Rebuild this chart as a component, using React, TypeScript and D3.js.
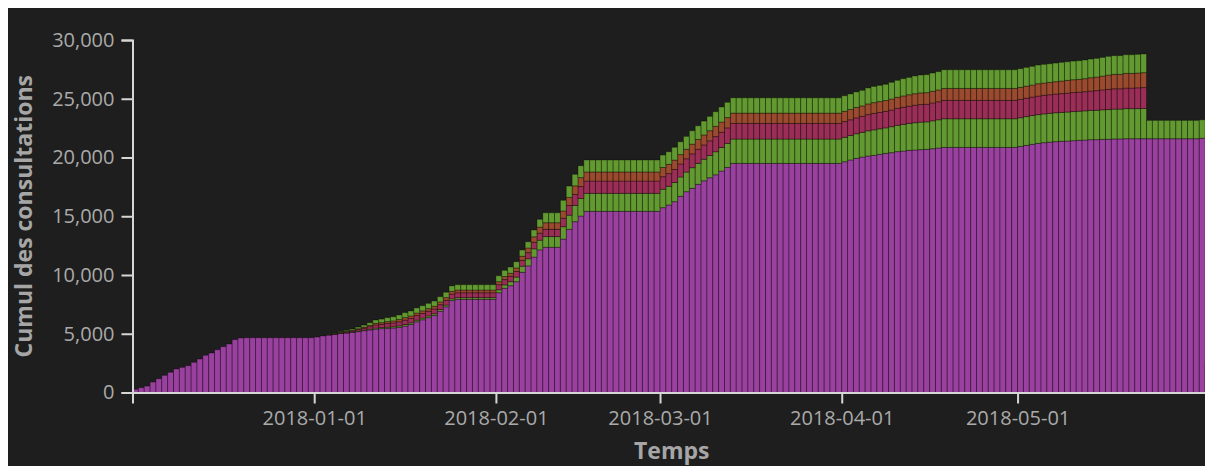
import React, { useEffect, useRef } from 'react'
import * as d3 from 'd3'

// one bar per day, from firstDay on
const firstDay = '2017-12-01'
const domainEnd = '2018-06-03'
const xTickDays = ['2018-01-01', '2018-02-01', '2018-03-01', '2018-04-01', '2018-05-01']
const yTicks = [0, 5000, 10000, 15000, 20000, 25000, 30000]

const seriesKeys = ['violet', 'vert', 'rouge', 'orange', 'vertClair']
const seriesColors = ['#9a409f', '#629a31', '#9a2e57', '#9a4a2e', '#629a31']

const violet = [
  270, 410, 550, 890, 1170, 1460, 1720, 2000, 2140, 2280,
  2570, 2850, 3170, 3360, 3640, 3900, 4130, 4500, 4640, 4660,
  4660, 4660, 4660, 4660, 4660, 4660, 4660, 4660, 4660, 4660,
  4660, 4720, 4810, 4890, 4950, 5030, 5060, 5120, 5180, 5260,
  5320, 5400, 5430, 5460, 5490, 5550, 5650, 5790, 6020, 6190,
  6370, 6560, 6920, 7290, 7820, 7930, 7930, 7930, 7930, 7930,
  7930, 7930, 8490, 8870, 9090, 9430, 10230, 10780, 11530, 12140,
  12360, 12360, 12360, 13060, 13890, 14540, 15020, 15420, 15420, 15420,
  15420, 15420, 15420, 15420, 15420, 15420, 15420, 15420, 15420, 15420,
  15730, 15960, 16240, 16700, 17090, 17380, 17720, 18020, 18280, 18530,
  18850, 19160, 19500, 19500, 19500, 19500, 19500, 19500, 19500, 19500,
  19500, 19500, 19500, 19500, 19500, 19500, 19500, 19500, 19500, 19500,
  19500, 19640, 19790, 19930, 20040, 20130, 20180, 20270, 20350, 20410,
  20500, 20550, 20610, 20640, 20670, 20690, 20750, 20810, 20860, 20860,
  20860, 20860, 20860, 20860, 20860, 20860, 20860, 20860, 20860, 20860,
  20860, 20940, 21030, 21120, 21200, 21260, 21310, 21350, 21380, 21400,
  21430, 21460, 21490, 21520, 21520, 21540, 21550, 21580, 21580, 21600,
  21600, 21600, 21600, 21600, 21600, 21600, 21600, 21600, 21600, 21600,
  21600, 21600, 21640, 0
]

const vert = [
  0, 0, 0, 0, 0, 0, 0, 0, 0, 0,
  0, 0, 0, 0, 0, 0, 0, 0, 0, 0,
  0, 0, 0, 0, 0, 0, 0, 0, 0, 0,
  0, 0, 0, 0, 10, 15, 25, 30, 45, 55,
  75, 90, 95, 105, 110, 125, 135, 135, 140, 145,
  145, 145, 150, 150, 150, 150, 150, 150, 150, 150,
  150, 150, 250, 290, 340, 390, 520, 600, 700, 820,
  910, 910, 910, 1050, 1200, 1380, 1490, 1530, 1530, 1530,
  1530, 1530, 1530, 1530, 1530, 1530, 1530, 1530, 1530, 1530,
  1570, 1590, 1630, 1640, 1670, 1750, 1780, 1830, 1890, 1960,
  2000, 2040, 2070, 2070, 2070, 2070, 2070, 2070, 2070, 2070,
  2070, 2070, 2070, 2070, 2070, 2070, 2070, 2070, 2070, 2070,
  2070, 2080, 2080, 2090, 2100, 2140, 2170, 2170, 2170, 2210,
  2240, 2270, 2290, 2320, 2340, 2340, 2370, 2400, 2440, 2440,
  2440, 2440, 2440, 2440, 2440, 2440, 2440, 2440, 2440, 2440,
  2440, 2440, 2450, 2450, 2450, 2450, 2450, 2460, 2460, 2470,
  2480, 2480, 2480, 2490, 2500, 2520, 2530, 2540, 2540, 2560,
  2560, 2560, 2570, 0, 0, 0, 0, 0, 0, 0,
  0, 0, 0, 2500
]

const rouge = [
  0, 0, 0, 0, 0, 0, 0, 0, 0, 0,
  0, 0, 0, 0, 0, 0, 0, 0, 0, 0,
  0, 0, 0, 0, 0, 0, 0, 0, 0, 0,
  0, 0, 0, 10, 30, 50, 75, 90, 130, 160,
  205, 255, 270, 300, 315, 345, 380, 380, 390, 395,
  400, 405, 405, 410, 410, 410, 410, 410, 410, 410,
  410, 410, 440, 450, 460, 480, 500, 520, 560, 600,
  620, 620, 620, 720, 830, 940, 1020, 1050, 1050, 1050,
  1050, 1050, 1050, 1050, 1050, 1050, 1050, 1050, 1050, 1050,
  1070, 1080, 1110, 1110, 1130, 1180, 1200, 1220, 1250, 1290,
  1300, 1320, 1330, 1330, 1330, 1330, 1330, 1330, 1330, 1330,
  1330, 1330, 1330, 1330, 1330, 1330, 1330, 1330, 1330, 1330,
  1330, 1340, 1340, 1350, 1360, 1380, 1400, 1400, 1400, 1420,
  1440, 1460, 1470, 1490, 1500, 1500, 1520, 1530, 1560, 1560,
  1560, 1560, 1560, 1560, 1560, 1560, 1560, 1560, 1560, 1560,
  1560, 1565, 1570, 1570, 1580, 1580, 1580, 1590, 1600, 1610,
  1620, 1620, 1630, 1650, 1670, 1690, 1720, 1730, 1730, 1750,
  1750, 1770, 1780, 0, 0, 0, 0, 0, 0, 0,
  0, 0, 0, 0
]

const orange = [
  0, 0, 0, 0, 0, 0, 0, 0, 0, 0,
  0, 0, 0, 0, 0, 0, 0, 0, 0, 0,
  0, 0, 0, 0, 0, 0, 0, 0, 0, 0,
  0, 0, 0, 0, 15, 25, 40, 50, 70, 85,
  110, 140, 150, 165, 175, 190, 210, 210, 215, 220,
  225, 225, 230, 230, 230, 230, 230, 230, 230, 230,
  230, 230, 250, 260, 260, 300, 350, 400, 460, 520,
  560, 560, 560, 620, 680, 730, 760, 770, 770, 770,
  770, 770, 770, 770, 770, 770, 770, 770, 770, 770,
  780, 790, 800, 800, 810, 830, 840, 850, 860, 870,
  870, 880, 880, 880, 880, 880, 880, 880, 880, 880,
  880, 880, 880, 880, 880, 880, 880, 880, 880, 880,
  880, 880, 880, 890, 890, 910, 920, 920, 930, 940,
  950, 960, 970, 980, 990, 990, 1000, 1010, 1020, 1020,
  1020, 1020, 1020, 1020, 1020, 1020, 1020, 1020, 1020, 1020,
  1020, 1025, 1030, 1030, 1050, 1050, 1050, 1050, 1070, 1080,
  1090, 1090, 1110, 1130, 1160, 1180, 1220, 1230, 1230, 1250,
  1250, 1260, 1270, 0, 0, 0, 0, 0, 0, 0,
  0, 0, 0, 0
]

const vertClair = [
  0, 0, 0, 0, 0, 0, 0, 0, 0, 0,
  0, 0, 0, 0, 0, 0, 0, 0, 0, 0,
  0, 0, 0, 0, 0, 0, 0, 0, 0, 0,
  0, 0, 0, 20, 35, 60, 90, 110, 145, 180,
  230, 285, 305, 340, 360, 390, 425, 425, 435, 440,
  450, 455, 455, 455, 460, 460, 460, 460, 460, 460,
  460, 460, 510, 530, 530, 530, 530, 530, 580, 660,
  850, 850, 850, 910, 970, 980, 1010, 1020, 1020, 1020,
  1020, 1020, 1020, 1020, 1020, 1020, 1020, 1020, 1020, 1020,
  1060, 1070, 1090, 1090, 1100, 1140, 1160, 1180, 1220, 1250,
  1280, 1300, 1300, 1300, 1300, 1300, 1300, 1300, 1300, 1300,
  1300, 1300, 1300, 1300, 1300, 1300, 1300, 1300, 1300, 1300,
  1300, 1320, 1320, 1320, 1330, 1360, 1380, 1380, 1380, 1420,
  1440, 1470, 1480, 1510, 1520, 1530, 1550, 1560, 1590, 1590,
  1590, 1590, 1590, 1590, 1590, 1590, 1590, 1590, 1590, 1590,
  1590, 1590, 1590, 1590, 1590, 1590, 1590, 1590, 1590, 1590,
  1590, 1590, 1590, 1590, 1590, 1590, 1590, 1590, 1590, 1590,
  1590, 1590, 1590, 1560, 1560, 1560, 1560, 1560, 1560, 1560,
  1560, 1560, 1570, 0
]

const seriesValues = [violet, vert, rouge, orange, vertClair]

const W = 1205
const H = 458

export default function App () {
  const ref = useRef<SVGSVGElement>(null)

  useEffect(() => {
    document.documentElement.style.overflow = 'hidden'
    document.body.style.overflow = 'hidden'

    const svg = d3.select(ref.current)
    svg.selectAll('*').remove()

    const margin = { top: 32, right: 2, bottom: 73.5, left: 124.5 }
    const innerW = W - margin.left - margin.right
    const innerH = H - margin.top - margin.bottom
    const font = "'Open Sans', 'Noto Sans', sans-serif"

    const parse = d3.utcParse('%Y-%m-%d')
    const start = parse(firstDay) as Date
    const days = violet.map((_, i) => d3.utcDay.offset(start, i))

    const table = days.map((d, i) => {
      const row: any = { date: d }
      seriesKeys.forEach((k, j) => { row[k] = seriesValues[j][i] })
      return row
    })
    const stacked = d3.stack().keys(seriesKeys)(table)

    const x = d3.scaleUtc()
      .domain([start, parse(domainEnd) as Date])
      .range([0, innerW])
    const y = d3.scaleLinear()
      .domain([0, 30000])
      .range([innerH, 0])

    const g = svg.append('g')
      .attr('transform', 'translate(' + margin.left + ',' + margin.top + ')')

    // faint band behind the last day
    const lastDay = days[days.length - 1]
    g.append('rect')
      .attr('x', x(lastDay) + 2)
      .attr('y', y(30000))
      .attr('width', innerW + margin.right - x(lastDay) - 2)
      .attr('height', y(0) - y(30000))
      .attr('fill', '#262626')

    // stacked bars
    stacked.forEach((layer, j) => {
      g.append('g')
        .selectAll('rect')
        .data(layer.filter(d => d[1] - d[0] > 0))
        .enter()
        .append('rect')
        .attr('x', d => x(d.data.date as any))
        .attr('width', d => x(d3.utcDay.offset(d.data.date as any, 1)) - x(d.data.date as any))
        .attr('y', d => y(d[1]))
        .attr('height', d => y(d[0]) - y(d[1]))
        .attr('fill', seriesColors[j])
        .attr('stroke', 'rgba(0,0,0,0.35)')
        .attr('stroke-width', 1)
    })

    // axes
    const xAxis = g.append('g')
      .attr('transform', 'translate(0,' + innerH + ')')
      .call(d3.axisBottom(x)
        .tickValues(xTickDays.map(s => parse(s) as Date))
        .tickFormat(d3.utcFormat('%Y-%m-%d') as any)
        .tickSize(11)
        .tickPadding(7))
    const yAxis = g.append('g')
      .call(d3.axisLeft(y)
        .tickValues(yTicks)
        .tickFormat(d3.format(',') as any)
        .tickSize(11)
        .tickPadding(7))

    ;[xAxis, yAxis].forEach(ax => {
      ax.select('.domain').attr('stroke', '#d6d6d6').attr('stroke-width', 2)
      ax.selectAll('.tick line').attr('stroke', '#d6d6d6').attr('stroke-width', 2)
      ax.selectAll('.tick text')
        .attr('fill', '#aaaaaa')
        .style('font-size', '20px')
        .style('font-family', font)
    })

    svg.append('text')
      .attr('transform', 'translate(24,' + (margin.top + innerH / 2) + ') rotate(-90)')
      .attr('text-anchor', 'middle')
      .attr('fill', '#a6a6a6')
      .style('font-family', font)
      .style('font-weight', 'bold')
      .style('font-size', '23px')
      .text('Cumul des consultations')

    svg.append('text')
      .attr('x', margin.left + innerW / 2)
      .attr('y', 451)
      .attr('text-anchor', 'middle')
      .attr('fill', '#a6a6a6')
      .style('font-family', font)
      .style('font-weight', 'bold')
      .style('font-size', '23px')
      .text('Temps')
  }, [])

  return (
    <svg ref={ref} width={W} height={H} style={{ display: 'block', background: '#1e1e1e' }} />
  )
}
